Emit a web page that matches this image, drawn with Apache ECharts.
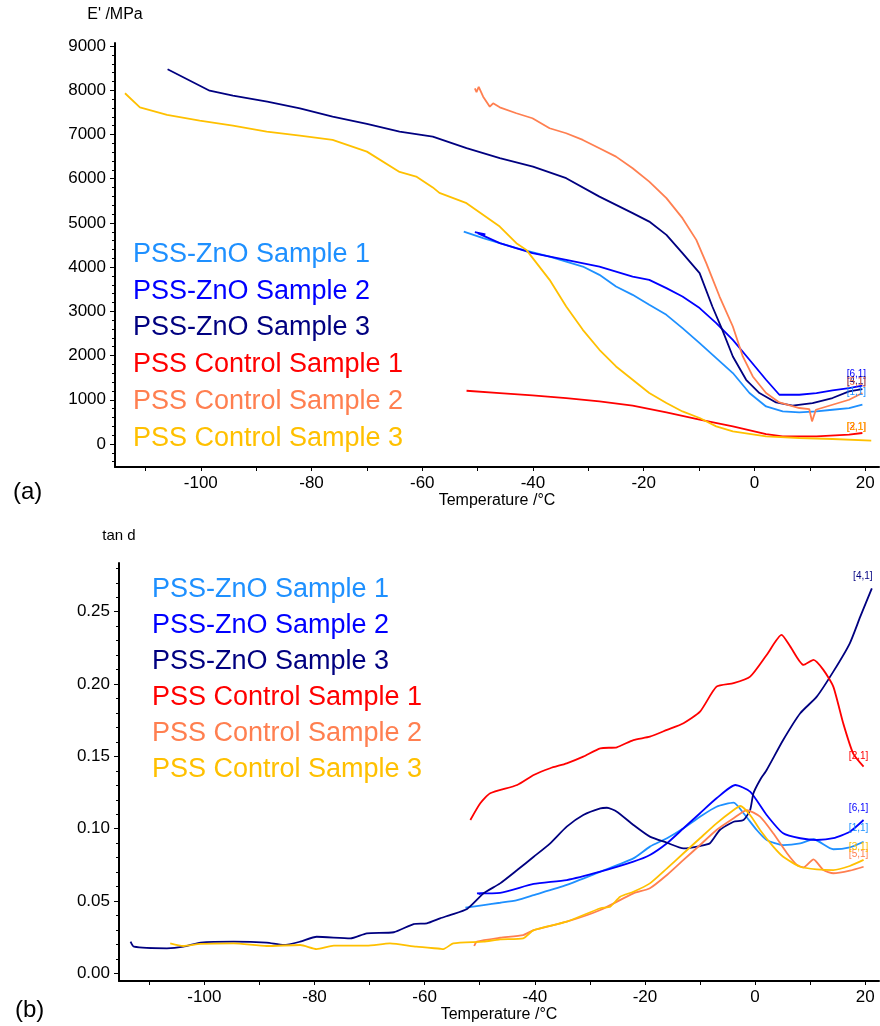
<!DOCTYPE html>
<html>
<head>
<meta charset="utf-8">
<title>PSS-ZnO DMA</title>
<script src="https://cdn.jsdelivr.net/npm/echarts@6.0.0/dist/echarts.min.js"></script>
<style>
  html, body { margin: 0; padding: 0; background: #fff; }
  #chart { width: 880px; height: 1026px; }
</style>
</head>
<body>
<div id="chart"></div>
<script>
// 图例名称和颜色
var names = [
  "PSS-ZnO Sample 1",
  "PSS-ZnO Sample 2",
  "PSS-ZnO Sample 3",
  "PSS Control Sample 1",
  "PSS Control Sample 2",
  "PSS Control Sample 3",
];
var colors = ["#1E90FF", "#0000FF", "#000080", "#FF0000", "#FF7F50", "#FFC000"];
var tags = ["[1,1]", "[6,1]", "[4,1]", "[2,1]", "[5,1]", "[3,1]"];

// 刻度标签
var tempTicks = [-100, -80, -60, -40, -20, 0, 20];
var modTicks = [0, 1000, 2000, 3000, 4000, 5000, 6000, 7000, 8000, 9000];
var tanTicks = [0, 0.05, 0.1, 0.15, 0.2, 0.25];

// (a) E' /MPa vs 温度 [T, E']
var eZnO1 = [[-52.5, 4805], [-49, 4656], [-43, 4430], [-37, 4240], [-31, 4014], [-28, 3826], [-25, 3562], [-22, 3374], [-19, 3148], [-15.9, 2922], [-13, 2622], [-9.9, 2283], [-6.9, 1944], [-3.9, 1605], [-0.9, 1153], [2.1, 850], [5.1, 737], [8.1, 714], [11.2, 737], [14.1, 775], [17.1, 814], [19.5, 888]];
var eZnO2 = [[-50.5, 4791], [-48.6, 4740], [-50, 4770], [-46, 4543], [-40.1, 4317], [-34, 4165], [-28, 4014], [-22, 3788], [-19, 3713], [-15.9, 3526], [-13, 3336], [-9.9, 3074], [-6.9, 2735], [-3.9, 2357], [-0.9, 1905], [2.1, 1453], [4.5, 1114], [8.1, 1114], [11.2, 1153], [14.1, 1211], [17.1, 1266], [19.5, 1318]];
var eZnO3 = [[-106, 8475], [-98.4, 7991], [-94.2, 7878], [-88, 7743], [-82.1, 7594], [-76.2, 7404], [-70, 7239], [-64.1, 7065], [-58.1, 6952], [-52, 6690], [-46, 6464], [-40, 6274], [-34, 6012], [-28, 5596], [-22, 5221], [-19, 5031], [-15.9, 4730], [-13, 4317], [-9.9, 3865], [-7.6, 3110], [-5.8, 2583], [-3.9, 1980], [-1.5, 1453], [0.9, 1153], [3.9, 940], [6.9, 866], [10.5, 927], [14.1, 1040], [17.1, 1189], [19.5, 1243]];
var eCtrl1 = [[-52, 1205], [-46, 1153], [-40.1, 1098], [-34, 1040], [-28, 963], [-22, 866], [-15.9, 714], [-9.9, 549], [-3.9, 398], [2.1, 226], [5.1, 172], [11.2, 172], [17.1, 210], [19.5, 249]];
var eCtrl2 = [[-50.5, 8046], [-50.2, 7960], [-49.8, 8080], [-49, 7856], [-47.8, 7630], [-47.2, 7707], [-46, 7616], [-43, 7481], [-40.1, 7368], [-37, 7142], [-34, 7029], [-31, 6877], [-28, 6690], [-25, 6500], [-22, 6238], [-19, 5935], [-15.9, 5560], [-13, 5108], [-10.5, 4617], [-8.7, 4091], [-6.3, 3336], [-3.9, 2658], [-2.1, 1980], [-0.3, 1528], [2.1, 1153], [4.5, 940], [8.1, 814], [9.9, 791], [10.4, 511], [11.1, 775], [14.1, 888], [17.1, 1001], [19.5, 1153]];
var eCtrl3 = [[-113.7, 7933], [-111, 7616], [-106.1, 7442], [-100.2, 7313], [-94.2, 7200], [-88.1, 7065], [-82.1, 6974], [-76.2, 6877], [-70, 6613], [-64.1, 6154], [-61.1, 6048], [-58.1, 5804], [-56.9, 5679], [-52, 5447], [-46, 4918], [-43, 4543], [-41.2, 4391], [-37, 3713], [-34, 3110], [-31, 2583], [-28, 2131], [-25, 1754], [-22, 1453], [-19, 1153], [-15.9, 927], [-13, 737], [-9.9, 588], [-6.9, 398], [-3.9, 285], [2.1, 172], [8.1, 136], [14.1, 113], [21.1, 75]];

// (b) tan d vs 温度 [T, tan d]
var tZnO1 = [[-52.6, 0.0454], [-49.3, 0.0472], [-46.3, 0.0488], [-43.2, 0.0507], [-40.2, 0.0541], [-34.2, 0.0611], [-28.1, 0.0703], [-22.1, 0.0795], [-19.1, 0.0876], [-16, 0.0934], [-13, 0.1003], [-10, 0.1083], [-7, 0.1152], [-3.9, 0.118], [-2.1, 0.1107], [0.3, 0.0991], [2.1, 0.0922], [5.1, 0.0887], [8.2, 0.0899], [10.6, 0.0927], [14.2, 0.0858], [17.2, 0.0871], [19.7, 0.091]];
var tZnO2 = [[-50.2, 0.0548], [-49, 0.0556], [-50.5, 0.0553], [-46.3, 0.0557], [-40.2, 0.0618], [-34.2, 0.0645], [-28.1, 0.0703], [-22.1, 0.0772], [-19.1, 0.0818], [-16, 0.0899], [-13, 0.1003], [-10, 0.1107], [-7, 0.121], [-3.6, 0.1302], [-0.9, 0.1256], [2.1, 0.1095], [5.1, 0.0968], [8.2, 0.0934], [11.2, 0.0922], [14.2, 0.0934], [17.2, 0.0979], [19.7, 0.106]];
var tZnO3 = [[-113.4, 0.0219], [-112.8, 0.0184], [-106.8, 0.0173], [-103.8, 0.0184], [-100.7, 0.0212], [-94.7, 0.0219], [-88.7, 0.0212], [-85.6, 0.0196], [-82.6, 0.0219], [-79.6, 0.0253], [-73.5, 0.0242], [-70.5, 0.0277], [-65.6, 0.0284], [-62, 0.0341], [-59.6, 0.0346], [-57.2, 0.038], [-55.4, 0.0403], [-52.3, 0.0445], [-49.3, 0.0553], [-46.3, 0.0622], [-43.2, 0.0714], [-40.2, 0.0806], [-37.2, 0.0899], [-34.2, 0.1014], [-31.2, 0.1095], [-28.1, 0.1141], [-26.9, 0.1145], [-25.1, 0.1118], [-22.1, 0.1026], [-19.1, 0.0945], [-16, 0.0903], [-13, 0.0864], [-10, 0.088], [-8.2, 0.0899], [-6.4, 0.0991], [-3.9, 0.1048], [-2.1, 0.106], [-0.9, 0.1129], [-0.3, 0.1245], [0.9, 0.1337], [2.1, 0.1406], [5.1, 0.1613], [8.2, 0.1798], [11.2, 0.1913], [14.2, 0.2086], [17.2, 0.2282], [19.1, 0.2466], [21.2, 0.2662]];
var tCtrl1 = [[-51.7, 0.106], [-49.9, 0.1176], [-48.1, 0.1245], [-43.2, 0.1302], [-40.2, 0.1371], [-37.2, 0.1418], [-34.2, 0.1452], [-31.2, 0.1498], [-28.1, 0.1556], [-25.1, 0.1563], [-22.1, 0.1613], [-19.1, 0.1636], [-16, 0.1683], [-13, 0.1729], [-10, 0.1809], [-7, 0.1982], [-3.9, 0.2006], [-0.9, 0.2051], [2.1, 0.2201], [4.8, 0.234], [6.4, 0.2259], [8.8, 0.2132], [10.6, 0.2167], [12.4, 0.2098], [14.2, 0.1982], [16, 0.1729], [17.8, 0.1521], [19.7, 0.1429]];
var tCtrl2 = [[-51, 0.0189], [-50.5, 0.0219], [-46.3, 0.0246], [-42.1, 0.0265], [-40.2, 0.0299], [-34.2, 0.0357], [-28.1, 0.0438], [-22.1, 0.0553], [-19.1, 0.0588], [-16, 0.068], [-13, 0.0784], [-10, 0.0887], [-7, 0.0991], [-3.9, 0.1072], [-1.5, 0.1129], [0.9, 0.1083], [3.3, 0.0968], [5.8, 0.083], [7.6, 0.0749], [8.8, 0.0733], [10.6, 0.0788], [12.4, 0.0714], [14.2, 0.0692], [17.2, 0.071], [19.7, 0.0737]];
var tCtrl3 = [[-106.2, 0.0207], [-103.8, 0.0189], [-100.7, 0.0203], [-94.7, 0.0207], [-88.7, 0.0189], [-82.6, 0.0196], [-79.6, 0.0168], [-76.5, 0.0191], [-70.5, 0.0191], [-66.3, 0.0207], [-61.5, 0.0184], [-57.2, 0.017], [-56.6, 0.0168], [-54.8, 0.0207], [-49.3, 0.0219], [-46.3, 0.0235], [-42.1, 0.0242], [-40.2, 0.0299], [-34.2, 0.0357], [-28.1, 0.045], [-26.3, 0.0461], [-24.5, 0.053], [-22.1, 0.0564], [-19.1, 0.0622], [-16, 0.0726], [-13, 0.083], [-10, 0.0934], [-7, 0.1037], [-3.9, 0.1129], [-2.7, 0.1157], [-0.9, 0.1095], [0.9, 0.0991], [3.3, 0.0876], [5.1, 0.0806], [8.2, 0.0737], [11.2, 0.0719], [14.2, 0.0714], [17.2, 0.0742], [19.7, 0.0784]];

var dataA = [eZnO1, eZnO2, eZnO3, eCtrl1, eCtrl2, eCtrl3];
var dataB = [tZnO1, tZnO2, tZnO3, tCtrl1, tCtrl2, tCtrl3];
// 曲线末端标签偏移
var offA = [[-6, -12], [-6, -11], [-6, -8], [-6, -6], [-6, -11], [-15, -13]];
var offB = [[-5, -13], [-5, -12], [-9, -12], [-5, -10], [-5, -12], [-5, -13]];

(function () {
  var myChart = echarts.init(document.querySelector("#chart"));
  var font = "Arial, 'Liberation Sans', sans-serif";

  // 次刻度位置
  var minorA = [];
  for (var v = -400; v <= 9000; v += 200) {
    if (v % 1000 !== 0) minorA.push(v);
  }
  var minorB = [];
  for (var i = 0; i <= 28; i++) {
    if (i % 5 !== 0) minorB.push(i / 100);
  }
  var xTicks = [];
  for (var t = -110; t <= 20; t += 10) xTicks.push(t);

  function xAxisOf(grid) {
    return {
      type: "value",
      gridIndex: grid,
      min: -115.5,
      max: 22.5,
      name: "Temperature /°C",
      nameLocation: "middle",
      nameGap: 21,
      nameTextStyle: { color: "#000", fontSize: 16, fontFamily: font },
      axisLine: { show: true, onZero: false, lineStyle: { color: "#000", width: 2 } },
      axisTick: { show: true, customValues: xTicks, length: 4, lineStyle: { color: "#000" } },
      axisLabel: {
        customValues: tempTicks,
        color: "#000",
        fontSize: 17,
        fontFamily: font,
        margin: 8,
      },
      splitLine: { show: false },
    };
  }

  function series(name, data, color, grid, tag, off, smooth) {
    return {
      name: name,
      type: "line",
      xAxisIndex: grid,
      yAxisIndex: grid,
      data: data,
      showSymbol: false,
      symbol: "none",
      smooth: smooth,
      color: color,
      lineStyle: { color: color, width: 1.8 },
      emphasis: { disabled: true },
      endLabel: {
        show: true,
        formatter: tag,
        color: color,
        fontSize: 10,
        fontFamily: font,
        distance: 0,
        offset: off,
        align: "center",
        verticalAlign: "middle",
      },
    };
  }

  var allSeries = [];
  for (var k = 0; k < 6; k++) {
    allSeries.push(series(names[k], dataA[k], colors[k], 0, tags[k], offA[k], false));
  }
  for (var k2 = 0; k2 < 6; k2++) {
    allSeries.push(series(names[k2], dataB[k2], colors[k2], 1, tags[k2], offB[k2], 0.2));
  }

  function legendData() {
    return names.map(function (n, idx) {
      return { name: n, textStyle: { color: colors[idx] } };
    });
  }

  var option = {
    animation: false,
    backgroundColor: "#fff",
    grid: [
      { left: 115, top: 43, width: 764, height: 424 },
      { left: 119, top: 563, width: 760, height: 418 },
    ],
    legend: [
      {
        left: 123,
        top: 231,
        orient: "vertical",
        icon: "none",
        itemWidth: 0,
        itemGap: 0,
        selectedMode: false,
        textStyle: { fontSize: 27, lineHeight: 36.8, fontFamily: font },
        data: legendData(),
      },
      {
        left: 142,
        top: 567,
        orient: "vertical",
        icon: "none",
        itemWidth: 0,
        itemGap: 0,
        selectedMode: false,
        textStyle: { fontSize: 27, lineHeight: 36, fontFamily: font },
        data: legendData(),
      },
    ],
    xAxis: [xAxisOf(0), xAxisOf(1)],
    yAxis: [
      {
        type: "value",
        gridIndex: 0,
        min: -520,
        max: 9070,
        name: "E' /MPa",
        nameLocation: "end",
        nameGap: 20,
        nameTextStyle: { color: "#000", fontSize: 16, fontFamily: font },
        axisLine: { show: true, onZero: false, lineStyle: { color: "#000", width: 2 } },
        axisTick: { show: true, customValues: modTicks, length: 5, lineStyle: { color: "#000" } },
        axisLabel: {
          customValues: modTicks,
          color: "#000",
          fontSize: 17,
          fontFamily: font,
          margin: 9,
          formatter: function (v) {
            return String(v);
          },
        },
        splitLine: { show: false },
      },
      {
        type: "value",
        gridIndex: 1,
        min: -0.0053,
        max: 0.2837,
        name: "tan d",
        nameLocation: "end",
        nameGap: 20,
        nameTextStyle: { color: "#000", fontSize: 15, fontFamily: font },
        axisLine: { show: true, onZero: false, lineStyle: { color: "#000", width: 2 } },
        axisTick: { show: true, customValues: tanTicks, length: 5, lineStyle: { color: "#000" } },
        axisLabel: {
          customValues: tanTicks,
          color: "#000",
          fontSize: 17,
          fontFamily: font,
          margin: 9,
          formatter: function (v) {
            return v.toFixed(2);
          },
        },
        splitLine: { show: false },
      },
      //次刻度，只画短线
      {
        type: "value",
        gridIndex: 0,
        position: "left",
        min: -520,
        max: 9070,
        axisLine: { show: false, onZero: false },
        axisTick: { show: true, customValues: minorA, length: 3, lineStyle: { color: "#000" } },
        axisLabel: { show: false },
        splitLine: { show: false },
      },
      {
        type: "value",
        gridIndex: 1,
        position: "left",
        min: -0.0053,
        max: 0.2837,
        axisLine: { show: false, onZero: false },
        axisTick: { show: true, customValues: minorB, length: 3, lineStyle: { color: "#000" } },
        axisLabel: { show: false },
        splitLine: { show: false },
      },
    ],
    graphic: [
      { type: "text", left: 13, top: 480, style: { text: "(a)", fontSize: 24, fontFamily: font, fill: "#000" } },
      { type: "text", left: 15, top: 998, style: { text: "(b)", fontSize: 24, fontFamily: font, fill: "#000" } },
    ],
    series: allSeries,
  };
  myChart.setOption(option);
})();
</script>
</body>
</html>
